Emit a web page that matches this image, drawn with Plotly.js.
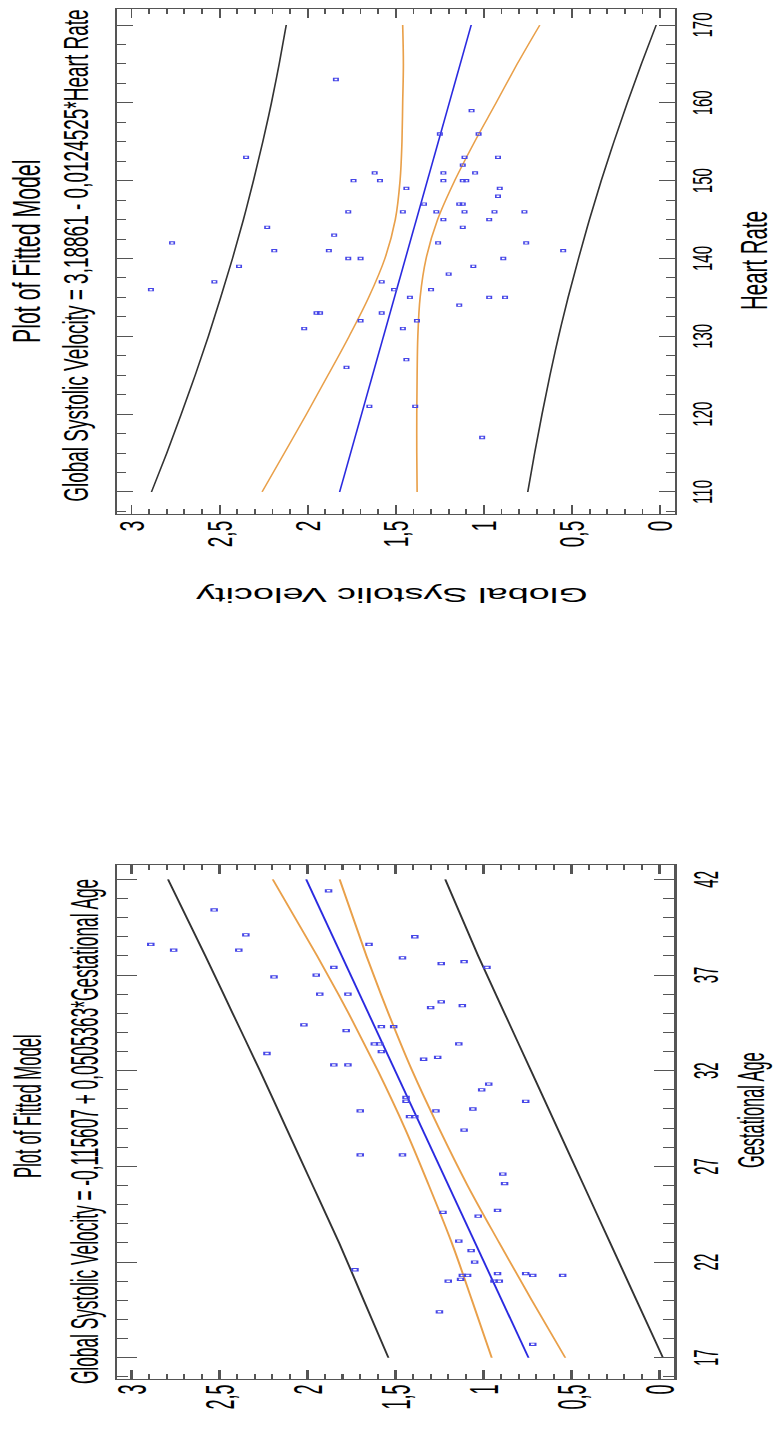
<!DOCTYPE html>
<html><head><meta charset="utf-8">
<script src="https://cdn.plot.ly/plotly-3.0.1.min.js"></script>
<style>
html,body{margin:0;padding:0;background:#fff;overflow:hidden;width:776px;height:1450px;}
.panel{position:absolute;left:0;top:0;transform-origin:0 0;}
</style></head><body>
<div id="top" class="panel"></div>
<div id="bot" class="panel"></div>
<script>
// ---------- Heart Rate model ----------
const hrPts = [153,144,142,143,141,141,139,
159,156,156,153,153,152,151,151,151,150,150,150,150,150,149,149,148,147,147,147,146,146,146,146,146,146,145,145,144,142,142,140,140,140,139,
137,136,133,133,131,
138,137,136,136,135,135,135,134,133,132,132,131,127,126,121,121,117,
163,141];
const gsvHR = [2.35,2.23,2.77,1.85,2.19,1.88,2.39,
1.07,1.25,1.03,1.11,0.92,1.12,1.62,1.23,1.05,1.74,1.59,1.23,1.12,1.10,0.91,1.44,0.92,1.34,1.14,1.12,1.77,1.46,1.27,1.11,0.94,0.77,1.23,0.97,1.12,1.26,0.76,1.77,1.70,0.89,1.06,
2.53,2.89,1.95,1.93,2.02,
1.20,1.58,1.51,1.30,1.42,0.97,0.88,1.14,1.58,1.70,1.38,1.46,1.44,1.78,1.65,1.39,1.01,
1.84,0.55];
const hrFitX = [110, 170];
const hrFitY = [1.819, 1.072];
const hrBand = [110,115,120,125,130,135,140,145,150,155,160,165,170];
const hrConfUp = [2.259,2.133,2.007,1.885,1.765,1.654,1.562,1.503,1.476,1.465,1.461,1.457,1.461];
const hrConfLo = [1.379,1.381,1.381,1.379,1.375,1.362,1.328,1.263,1.166,1.053,0.931,0.811,0.683];
const hrPredUp = [2.887,2.800,2.718,2.639,2.564,2.494,2.427,2.365,2.308,2.255,2.206,2.162,2.122];
const hrPredLo = [0.751,0.712,0.670,0.625,0.576,0.522,0.463,0.401,0.334,0.262,0.186,0.106,0.022];

// ---------- Gestational Age model ----------
const gaPts = [41.4,40.4,39.1,38.6,38.3,38.3,37.4,36.9,37.0,36.0,36.0,34.4,34.1,32.9,32.3,32.3,
39.0,38.6,37.9,37.6,37.7,37.4,35.6,35.3,35.4,34.3,34.3,33.4,33.4,33.0,33.4,32.6,32.7,31.3,31.0,30.4,30.6,30.4,
29.9,29.9,30.0,29.6,29.6,28.9,27.6,27.6,26.6,26.1,24.6,24.4,24.7,23.1,22.6,22.0,21.6,21.3,21.3,21.1,21.0,21.4,21.0,21.0,21.4,21.3,21.3,19.4,17.7];
const gsvGA = [1.88,2.53,2.35,2.89,2.76,2.39,1.85,2.19,1.95,1.93,1.77,2.02,1.78,2.23,1.85,1.77,
1.39,1.65,1.46,1.24,1.11,0.98,1.24,1.30,1.12,1.58,1.51,1.62,1.59,1.58,1.14,1.34,1.26,0.97,1.01,0.76,1.44,1.44,
1.70,1.27,1.06,1.42,1.39,1.11,1.70,1.46,0.89,0.88,1.23,1.03,0.92,1.14,1.07,1.05,1.73,1.12,1.09,1.13,1.20,0.92,0.94,0.91,0.76,0.72,0.55,1.25,0.72];
const gaFitX = [17, 42];
const gaFitY = [0.744, 2.007];
const gaBand = [17,20,23,26,29,32,35,38,42];
const gaConfUp = [0.953,1.065,1.180,1.310,1.447,1.600,1.766,1.945,2.197];
const gaConfLo = [0.535,0.725,0.910,1.090,1.253,1.405,1.540,1.665,1.817];
const gaPredUp = [1.540,1.680,1.820,1.970,2.120,2.270,2.425,2.580,2.792];
const gaPredLo = [-0.020,0.130,0.280,0.430,0.580,0.730,0.880,1.030,1.217];

const titleMain = 'Plot of Fitted Model';
const eqHR = 'Global Systolic Velocity = 3,18861 - 0,0124525*Heart Rate';
const eqGA = 'Global Systolic Velocity = -0,115607 + 0,0505363*Gestational Age';
const yTitle = 'Global Systolic Velocity';
const xTitleHR = 'Heart Rate';
const xTitleGA = 'Gestational Age';

const FONT = 'Liberation Sans, Arial, sans-serif';
const C_PT = '#4646e8', C_FIT = '#2a2ae0', C_CONF = '#e9a04a', C_PRED = '#333333', C_AX = '#555555';

function traces(px, py, fx, fy, bx, cu, cl, pu, pl) {
  const ln = (x, y, c, sh) => ({x, y, type:'scatter', mode:'lines', line:{color:c, width:0.9, shape:sh, smoothing:1}, hoverinfo:'skip'});
  return [
    ln(bx, pu, C_PRED, 'spline'), ln(bx, pl, C_PRED, 'spline'),
    ln(bx, cu, C_CONF, 'spline'), ln(bx, cl, C_CONF, 'spline'),
    ln(fx, fy, C_FIT, 'linear'),
    {x:px, y:py, type:'scatter', mode:'markers', marker:{symbol:'square-open', size:2.4, color:C_PT, line:{width:0.9, color:C_PT}}}
  ];
}
function axis(o) {
  return Object.assign({showline:true, linecolor:C_AX, linewidth:1, mirror:'ticks', ticks:'inside', ticklen:9,
    tickwidth:1, tickcolor:C_AX, showgrid:false, zeroline:false, fixedrange:true, tickangle:0, automargin:false,
    tickfont:{family:FONT, size:14, color:'#000'}}, o);
}
function ann(text, u, v, W, H, size, angle) {
  return {text, x:u/W, y:1 - v/H, xref:'paper', yref:'paper', xanchor:'center', yanchor:'middle',
    showarrow:false, textangle:angle || 0, font:{family:FONT, size, color:'#000'}};
}

const W = 725, kT = 1.83, kB = 2.28, HT = 776 / kT, HB = 776 / kB;

const layTop = {
  width:W, height:HT, margin:{l:0,r:0,t:0,b:0}, paper_bgcolor:'#fff', plot_bgcolor:'#fff',
  showlegend:false, separators:',.', font:{family:FONT},
  xaxis: axis({range:[107.17,172.06], domain:[211/W, 716/W], tick0:110, dtick:10,
    minor:{ticks:'inside', ticklen:5, tick0:110, dtick:2.5, tickcolor:C_AX, showgrid:false},
    tickfont:{family:FONT, size:15, color:'#000'}, ticklabelstandoff:1}),
  yaxis: axis({range:[-0.085,3.083], domain:[0.130, 0.8493], tick0:0, dtick:0.5,
    minor:{ticks:'inside', ticklen:5, tick0:0, dtick:0.1, tickcolor:C_AX, showgrid:false},
    tickfont:{family:FONT, size:19, color:'#000'}, ticklabelstandoff:2}),
  annotations:[
    ann(titleMain, 473, 15.4, W, HT, 21.3),
    ann(eqHR, 469, 41.4, W, HT, 19),
    ann(xTitleHR, 465, 411.5, W, HT, 20.5),
    ann(yTitle, 129.4, 213.7, W, HT, 20.7, -90)
  ]
};
const layBot = {
  width:W, height:HB, margin:{l:0,r:0,t:0,b:0}, paper_bgcolor:'#fff', plot_bgcolor:'#fff',
  showlegend:false, separators:',.', font:{family:FONT},
  xaxis: axis({range:[15.89,42.75], domain:[71/W, 585/W], tick0:17, dtick:5,
    minor:{ticks:'inside', ticklen:5, tick0:17, dtick:1, tickcolor:C_AX, showgrid:false},
    tickfont:{family:FONT, size:15, color:'#000'}, ticklabelstandoff:0}),
  yaxis: axis({range:[-0.085,3.083], domain:[0.130, 0.8493], tick0:0, dtick:0.5,
    minor:{ticks:'inside', ticklen:5, tick0:0, dtick:0.1, tickcolor:C_AX, showgrid:false},
    tickfont:{family:FONT, size:18, color:'#000'}, ticklabelstandoff:1}),
  annotations:[
    ann(titleMain, 343.5, 12.8, W, HB, 16.7),
    ann(eqGA, 318.2, 36.9, W, HB, 17.3),
    ann(xTitleGA, 340, 329.5, W, HB, 16.4)
  ]
};
const cfg = {staticPlot:true, displayModeBar:false};
Plotly.newPlot('top', traces(hrPts, gsvHR, hrFitX, hrFitY, hrBand, hrConfUp, hrConfLo, hrPredUp, hrPredLo), layTop, cfg)
  .then(() => { document.getElementById('top').style.transform = 'matrix(0,-1,' + kT + ',0,0,725)'; });
Plotly.newPlot('bot', traces(gaPts, gsvGA, gaFitX, gaFitY, gaBand, gaConfUp, gaConfLo, gaPredUp, gaPredLo), layBot, cfg)
  .then(() => { document.getElementById('bot').style.transform = 'matrix(0,-1,' + kB + ',0,0,1450)'; });
</script></body></html>
